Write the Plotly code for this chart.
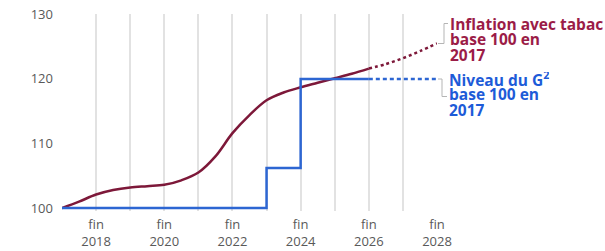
import plotly.graph_objects as go

# ---- data ----
infl_x = [2017, 2017.5, 2018, 2018.5, 2019, 2019.5, 2020, 2020.5, 2021, 2021.5, 2022, 2022.5,
          2023, 2023.5, 2024, 2024.5, 2025, 2025.5, 2026]
infl_y = [100, 101.0, 102.1, 102.8, 103.2, 103.4, 103.6, 104.3, 105.5, 108.0, 111.6, 114.4,
          116.7, 117.9, 118.7, 119.4, 120.1, 120.8, 121.6]
infl_proj_x = [2026, 2026.5, 2027, 2027.5, 2028]
infl_proj_y = [121.6, 122.3, 123.2, 124.3, 125.5]

g2_x = [2017, 2023, 2024, 2026]
g2_y = [100, 106.2, 120, 120]
g2_proj_x = [2026, 2028]
g2_proj_y = [120, 120]

label_years = [2018, 2020, 2022, 2024, 2026, 2028]
label_text = [f"fin<br>{y}" for y in label_years]
y_ticks = [100, 110, 120, 130]

RED_LINE = "#7d1839"
RED_TEXT = "#9b1c47"
BLUE_LINE = "#2d66d2"
BLUE_TEXT = "#1d5bd8"
GREY = "#595959"
GRID = "#e2e2e2"

W, H = 605, 251
ML, MR, MT, MB = 62, 168, 14, 40
PW, PH = W - ML - MR, H - MT - MB


def px(xp):
    return (xp - ML) / PW


def py(yp):
    return (H - MB - yp) / PH


fig = go.Figure()
fig.add_trace(go.Scatter(x=infl_x, y=infl_y, mode="lines",
                         line=dict(color=RED_LINE, width=2.5, shape="spline", smoothing=1)))
fig.add_trace(go.Scatter(x=infl_proj_x, y=infl_proj_y, mode="lines",
                         line=dict(color=RED_LINE, width=2.5, shape="spline", dash="3px,3px")))
fig.add_trace(go.Scatter(x=g2_x, y=g2_y, mode="lines",
                         line=dict(color=BLUE_LINE, width=2.5, shape="hv")))
fig.add_trace(go.Scatter(x=g2_proj_x, y=g2_proj_y, mode="lines",
                         line=dict(color=BLUE_LINE, width=2.5, dash="4px,3px")))

fig.update_layout(
    width=W, height=H,
    margin=dict(l=ML, r=MR, t=MT, b=MB, autoexpand=False),
    paper_bgcolor="white", plot_bgcolor="white",
    showlegend=False,
    font=dict(family="Open Sans", size=13, color=GREY),
    xaxis=dict(range=[2017, 2028], tickvals=label_years, ticktext=label_text,
               showgrid=True, gridcolor=GRID, gridwidth=1.5,
               minor=dict(tick0=2017, dtick=1, showgrid=True, gridcolor=GRID, gridwidth=1.5),
               zeroline=False, showline=False, ticks="", ticklabelstandoff=4,
               automargin=False, tickfont=dict(size=13, color=GREY)),
    yaxis=dict(range=[99.55, 130.05], tickvals=y_ticks, showgrid=False,
               zeroline=False, showline=False, ticks="", ticklabelstandoff=8,
               automargin=False, tickfont=dict(size=13, color=GREY)),
)

red_lines = ["Inflation avec tabac", "base 100 en", "2017"]
red_ys = [23.8, 39.0, 54.8]
blue_lines = ["Niveau du G<sup>2</sup>", "base 100 en", "2017"]
blue_ys = [78.8, 94.0, 109.8]

for lines, ys, col, x0 in ((red_lines, red_ys, RED_TEXT, 449), (blue_lines, blue_ys, BLUE_TEXT, 448)):
    for t, yp in zip(lines, ys):
        fig.add_annotation(text=t, xref="paper", yref="paper", x=px(x0), y=py(yp),
                           xanchor="left", yanchor="middle", showarrow=False,
                           height=14, borderpad=0, valign="middle",
                           font=dict(family="Open Sans", size=15.5, color=col, weight="bold"))


def path(points):
    return "M " + " L ".join(f"{px(a)},{py(b)}" for a, b in points)


fig.add_shape(type="path", xref="paper", yref="paper",
              path=path([(438, 43.5), (444, 43.5), (444, 23.5), (448, 23.5)]),
              line=dict(color="#b5b5b5", width=1))
fig.add_shape(type="path", xref="paper", yref="paper",
              path=path([(438, 79), (442, 79), (442, 96.5), (447, 96.5)]),
              line=dict(color="#b5b5b5", width=1))

fig.write_html("out.html")
